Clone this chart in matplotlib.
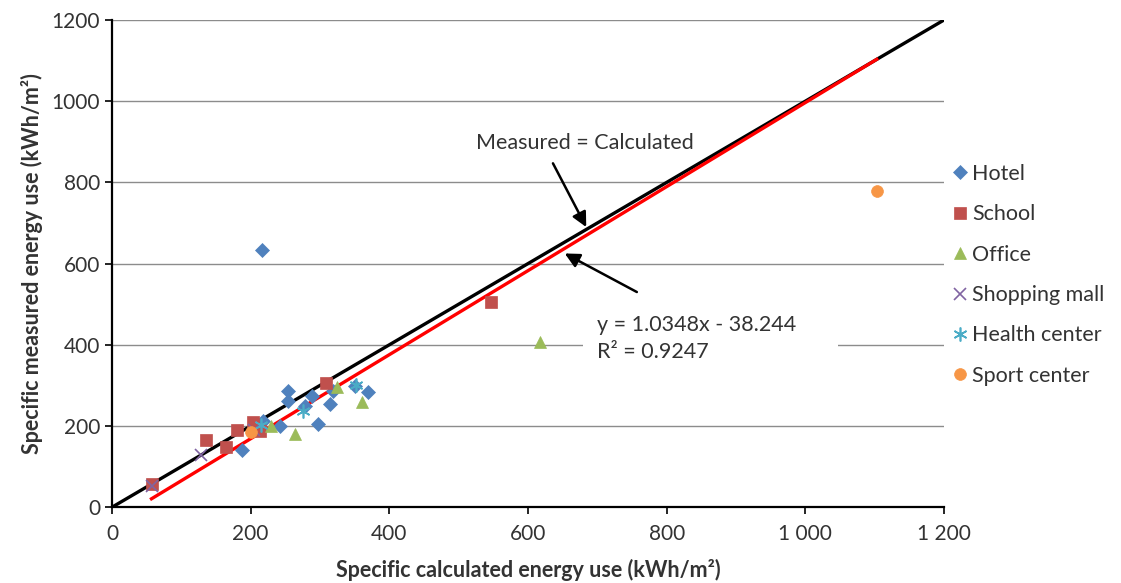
import matplotlib.pyplot as plt
from matplotlib.patches import Rectangle
from matplotlib.ticker import FuncFormatter

plt.rcParams['font.family'] = ['Lato', 'DejaVu Sans']

# Data (kWh/m2): calculated (x), measured (y)
hotel_x = [187, 254, 254, 242, 288, 297, 314, 319, 350, 369, 218, 216, 278]
hotel_y = [142, 285, 261, 201, 275, 206, 255, 285, 299, 284, 212, 633, 250]
school_x = [57, 136, 164, 181, 204, 213, 309, 547]
school_y = [57, 165, 148, 191, 210, 188, 305, 505]
office_x = [230, 264, 324, 360, 617]
office_y = [199, 181, 297, 260, 406]
mall_x = [57, 129, 205]
mall_y = [52, 128, 190]
health_x = [276, 352, 215]
health_y = [237, 300, 202]
sport_x = [201, 1103]
sport_y = [185, 778]

fit_slope = 1.0348
fit_icpt = -38.244
fit_r2 = 0.9247

series = [
    ('Hotel', hotel_x, hotel_y, 'D', '#4F81BD', 7),
    ('School', school_x, school_y, 's', '#C0504D', 8.5),
    ('Office', office_x, office_y, '^', '#9BBB59', 9),
    ('Shopping mall', mall_x, mall_y, 'x', '#8064A2', 9),
    ('Health center', health_x, health_y, (6, 2, 0), '#4BACC6', 10),
    ('Sport center', sport_x, sport_y, 'o', '#F79646', 8.5),
]

fig = plt.figure(figsize=(11.21, 5.83), dpi=100)
ax = fig.add_axes([0.0999, 0.130, 0.7422, 0.8357])

ax.set_xlim(0, 1200)
ax.set_ylim(0, 1200)
ax.set_xticks(range(0, 1201, 200))
ax.set_yticks(range(0, 1201, 200))
ax.yaxis.grid(True, color='#8c8c8c', lw=1)
ax.set_axisbelow(True)

for s in ['top', 'right']:
    ax.spines[s].set_visible(False)
for s in ['left', 'bottom']:
    ax.spines[s].set_linewidth(1.6)

ax.xaxis.set_major_formatter(FuncFormatter(lambda v, p: f"{int(v):,}".replace(',', ' ')))
ax.tick_params(axis='both', labelsize=15, length=5, width=1.2, colors='black')
ax.tick_params(axis='x', pad=7)
for lbl in ax.get_xticklabels() + ax.get_yticklabels():
    lbl.set_color('#333333')

# 1:1 line
ax.plot([0, 1200], [0, 1200], color='black', lw=2.4, zorder=3)
# linear fit over data range
all_x = hotel_x + school_x + office_x + mall_x + health_x + sport_x
x0, x1 = min(all_x), max(all_x)
ax.plot([x0, x1], [fit_slope * x0 + fit_icpt, fit_slope * x1 + fit_icpt],
        color='#FF0000', lw=2.4, zorder=3)

for name, xs, ys, mk, col, ms in series:
    ax.plot(xs, ys, linestyle='none', marker=mk, color=col, markersize=ms,
            markeredgewidth=1.2 if mk in ('x', (6, 2, 0)) else 0.5,
            label=name, zorder=4)

arrow = dict(arrowstyle='-|>', color='black', lw=1.8, mutation_scale=22,
             shrinkA=0, shrinkB=0)
ax.text(682, 897, 'Measured = Calculated', ha='center', va='center',
        fontsize=15.5, color='#333333')
ax.annotate('', xy=(684, 690), xytext=(636, 847), arrowprops=arrow)
ax.annotate('', xy=(653, 625), xytext=(757, 530), arrowprops=arrow)

# white label box that cuts the gridline like the Excel label
ax.add_patch(Rectangle((679, 350), 368, 147, facecolor='white',
                       edgecolor='none', zorder=2))
ax.text(700, 416, f'y = {fit_slope}x - {abs(fit_icpt)}\nR² = {fit_r2}',
        ha='left', va='center', fontsize=15.5, color='#333333',
        linespacing=1.45, zorder=5)

ax.set_xlabel('Specific calculated energy use (kWh/m²)', fontsize=15.5,
              fontweight='bold', color='#333333', labelpad=11)
ax.set_ylabel('Specific measured energy use (kWh/m²)', fontsize=15.5,
              fontweight='bold', color='#333333', labelpad=6)

fig.legend(loc='upper left', bbox_to_anchor=(0.843, 0.734), frameon=False,
           fontsize=15.5, labelspacing=0.95, handlelength=0.6, handletextpad=0.25,
           labelcolor='#333333', borderaxespad=0)

fig.savefig('out.png', dpi=100)
